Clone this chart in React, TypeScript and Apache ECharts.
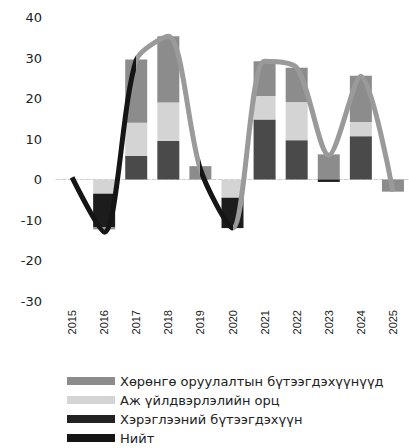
import React, { useEffect, useRef } from "react";
import * as echarts from "echarts";

const years = ["2015", "2016", "2017", "2018", "2019", "2020", "2021", "2022", "2023", "2024", "2025"];
const consumer = [0, -8.3, 5.8, 9.5, 0, -7.5, 14.8, 9.7, -0.6, 10.7, 0];
const industrial = [0, -3.5, 8.2, 9.5, 0, -4.5, 5.8, 9.4, 0, 3.5, 0];
const investment = [0, -0.5, 15.6, 16.4, 3.3, 0, 8.6, 8.5, 6.2, 11.4, -3];
const total = [0.5, -13, 29.5, 35.4, 2.5, -12, 29.2, 27.6, 6, 25.5, -3];
const yTicks = { min: -30, max: 40, interval: 10 };

const NAME_INV = "Хөрөнгө оруулалтын бүтээгдэхүүнүүд";
const NAME_IND = "Аж үйлдвэрлэлийн орц";
const NAME_CON = "Хэрэглээний бүтээгдэхүүн";
const NAME_TOT = "Нийт";

const C_INV = "#8c8c8c";
const C_IND = "#d4d4d4";
const C_CON_POS = "#4a4a4a";
const C_CON_NEG = "#1c1c1c";
const C_LINE_DARK = "#151515";
const C_LINE_GRAY = "#9a9a9a";

const CHART_H = 480;

const pos = (a: number[]) => a.map((v) => (v > 0 ? v : 0));
const neg = (a: number[]) => a.map((v) => (v < 0 ? v : 0));

export default function App() {
  const ref = useRef<HTMLDivElement>(null);
  useEffect(() => {
    if (!ref.current) return;
    const chart = echarts.init(ref.current, null, { renderer: "svg" });
    const barBase = {
      type: "bar" as const,
      barWidth: 22,
      barGap: "-100%",
    };
    const last = total.length - 1;
    chart.setOption({
      animation: false,
      backgroundColor: "#fff",
      textStyle: { fontFamily: "DejaVu Sans" },
      grid: { left: 56, right: -10, top: 17.5, bottom: CHART_H - 301, containLabel: false },
      xAxis: {
        type: "category",
        data: years,
        axisLine: { show: true, onZero: true, lineStyle: { color: "#cfcfcf", type: "dashed", width: 1 } },
        axisTick: { show: false },
        axisLabel: {
          rotate: 90,
          interval: 0,
          margin: 9,
          fontFamily: "Liberation Sans",
          fontSize: 11,
          color: "#222",
        },
        position: "bottom",
      },
      yAxis: {
        type: "value",
        min: yTicks.min,
        max: yTicks.max,
        interval: yTicks.interval,
        axisLine: { show: false },
        axisTick: { show: false },
        splitLine: { show: false },
        axisLabel: { fontFamily: "DejaVu Sans", fontSize: 13, color: "#222", margin: 14 },
      },
      legend: {
        orient: "vertical",
        left: 62,
        top: 369,
        itemWidth: 48,
        itemHeight: 8,
        itemGap: 5,
        textStyle: { fontFamily: "DejaVu Sans", fontSize: 13, color: "#222", lineHeight: 14 },
        data: [
          { name: NAME_INV, icon: "rect", itemStyle: { color: C_INV } },
          { name: NAME_IND, icon: "rect", itemStyle: { color: C_IND } },
          { name: NAME_CON, icon: "rect", itemStyle: { color: "#222" } },
          { name: NAME_TOT, icon: "rect", itemStyle: { color: C_LINE_DARK } },
        ],
      },
      visualMap: {
        type: "piecewise",
        show: false,
        dimension: 0,
        seriesIndex: 6,
        pieces: [
          { lte: 2, color: C_LINE_DARK },
          { gt: 2, lte: 4, color: C_LINE_GRAY },
          { gt: 4, lte: 5.35, color: C_LINE_DARK },
          { gt: 5.35, color: C_LINE_GRAY },
        ],
      },
      series: [
        { ...barBase, name: NAME_CON, stack: "pos", data: pos(consumer), itemStyle: { color: C_CON_POS } },
        { ...barBase, name: NAME_IND, stack: "pos", data: pos(industrial), itemStyle: { color: C_IND } },
        { ...barBase, name: NAME_INV, stack: "pos", data: pos(investment), itemStyle: { color: C_INV } },
        { ...barBase, name: NAME_IND, stack: "neg", data: neg(industrial), itemStyle: { color: C_IND } },
        { ...barBase, name: NAME_CON, stack: "neg", data: neg(consumer), itemStyle: { color: C_CON_NEG } },
        { ...barBase, name: NAME_INV, stack: "neg", data: neg(investment), itemStyle: { color: C_INV } },
        {
          type: "line",
          name: NAME_TOT,
          smooth: 0.28,
          showSymbol: false,
          symbol: "circle",
          symbolSize: 6,
          z: 5,
          lineStyle: { width: 5 },
          data: total.map((v, i) =>
            i === last
              ? {
                  value: v,
                  label: {
                    show: true,
                    position: "bottom",
                    distance: 28,
                    fontFamily: "DejaVu Sans",
                    fontSize: 14,
                    color: "#222",
                    formatter: "{c}",
                  },
                }
              : v
          ),
        },
      ],
    });
    return () => chart.dispose();
  }, []);
  return (
    <div
      style={{ position: "absolute", left: 0, top: 0, width: 409, height: 448, overflow: "hidden", background: "#fff" }}
    >
      <div ref={ref} style={{ width: 409, height: CHART_H }} />
    </div>
  );
}
